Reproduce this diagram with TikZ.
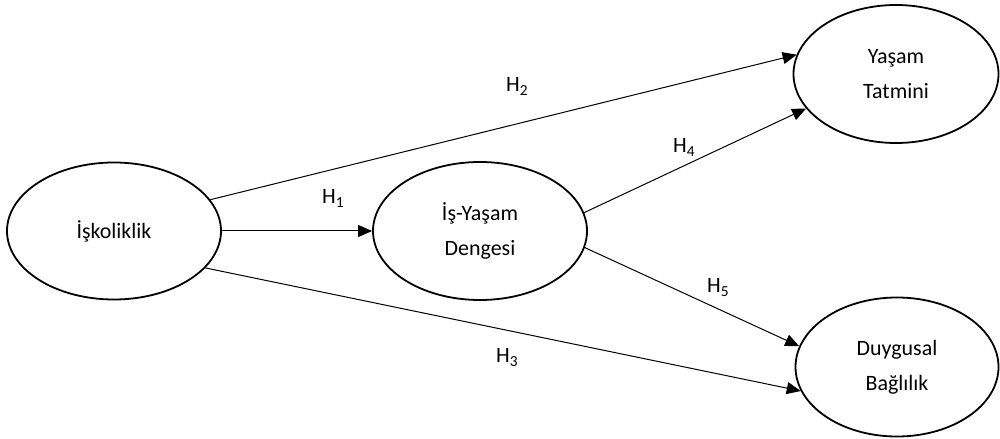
\documentclass[tikz,border=0pt]{standalone}
\usepackage{fontspec}
\setmainfont{Carlito}
\usetikzlibrary{shapes.geometric,arrows.meta}
\begin{document}
\begin{tikzpicture}[x=1bp,y=-1bp,
  construct/.style={ellipse,draw,line width=1.8bp,inner sep=0pt,align=center,
    font=\fontsize{22}{35}\selectfont},
  path/.style={line width=1bp,-{Triangle[length=14bp,width=12bp]}},
  hlabel/.style={anchor=base west,inner sep=0pt,font=\fontsize{22}{26}\selectfont}]
\useasboundingbox (0,0) rectangle (1000,439);
\node[construct,minimum width=214bp,minimum height=137bp] (isk) at (114,231) {İşkoliklik};
\node[construct,minimum width=214bp,minimum height=138bp] (iyd) at (480,231) {İş-Yaşam\\Dengesi};
\node[construct,minimum width=205bp,minimum height=138bp] (yt) at (896,74) {Yaşam\\Tatmini};
\node[construct,minimum width=203bp,minimum height=139bp] (dg) at (897,367) {Duygusal\\Bağlılık};
\draw[path] (isk.east) -- (iyd.west);
\draw[path] (isk.18) -- (yt.169);
\draw[path] (isk.-22) -- (dg.-166);
\draw[path] (iyd.10) -- (yt.-159);
\draw[path] (iyd.-9) -- (dg.168);
\node[hlabel] (h1) at (322,204) {H\textsubscript{1}};
\node[hlabel] (h2) at (506,92) {H\textsubscript{2}};
\node[hlabel] (h3) at (496,363) {H\textsubscript{3}};
\node[hlabel] (h4) at (673,153) {H\textsubscript{4}};
\node[hlabel] (h5) at (707,293) {H\textsubscript{5}};
\end{tikzpicture}
\end{document}
